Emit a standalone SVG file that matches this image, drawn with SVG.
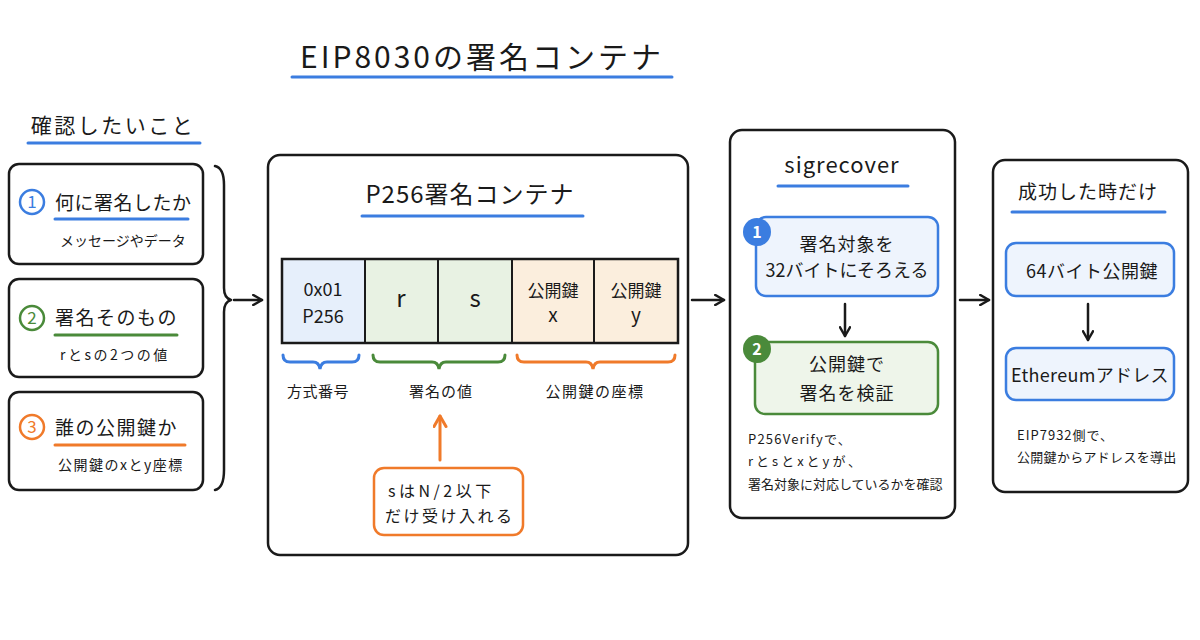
<svg xmlns="http://www.w3.org/2000/svg" width="1200" height="640" viewBox="0 0 1200 640">
<defs>
<style>
text{font-family:"Noto Sans CJK JP","Noto Sans",sans-serif;fill:#1a1a1a}
.box{fill:#fff;stroke:#1a1a1a;stroke-width:2.5}
.ln{stroke-width:3;stroke-linecap:round;fill:none}
.b{stroke:#3b7de0}.g{stroke:#4a8a3a}.o{stroke:#f07a2a}
.k{stroke:#1a1a1a;stroke-width:2.5;fill:none;stroke-linecap:round;stroke-linejoin:round}
.t{font-size:19px;letter-spacing:0.5px}
.s{font-size:14px}
.c{text-anchor:middle}
</style>
<marker id="ah" viewBox="0 0 10 10" refX="8" refY="5" markerWidth="5" markerHeight="5" orient="auto"><path d="M1,1 L8,5 L1,9" fill="none" stroke="#1a1a1a" stroke-width="2" stroke-linecap="round" stroke-linejoin="round"/></marker>
<marker id="aho" viewBox="0 0 10 10" refX="8" refY="5" markerWidth="5" markerHeight="5" orient="auto"><path d="M1,1 L8,5 L1,9" fill="none" stroke="#f07a2a" stroke-width="2" stroke-linecap="round" stroke-linejoin="round"/></marker>
</defs>
<rect width="1200" height="640" fill="#fff"/>

<g id="title">
<text x="482" y="68" class="c" style="font-size:30px;letter-spacing:3px">EIP8030の署名コンテナ</text>
<line x1="292" y1="77" x2="672" y2="77" class="ln b"/>
</g>

<g id="check-heading">
<text x="113" y="133" class="c" style="font-size:21px;letter-spacing:2.5px">確認したいこと</text>
<line x1="28" y1="143" x2="200" y2="143" class="ln b"/>
</g>

<g id="item1">
<rect x="9" y="164" width="194" height="100" rx="10" class="box"/>
<circle cx="32" cy="202" r="12" fill="none" class="b" stroke-width="2.5"/>
<text x="32" y="208" class="c" style="font-size:17px;fill:#3b7de0">1</text>
<text x="55" y="210" class="t">何に署名したか</text>
<line x1="55" y1="219" x2="188" y2="219" class="ln b"/>
<text x="60" y="246" class="s">メッセージやデータ</text>
</g>

<g id="item2">
<rect x="9" y="279" width="194" height="98" rx="10" class="box"/>
<circle cx="32" cy="318" r="12" fill="none" class="g" stroke-width="2.5"/>
<text x="32" y="324" class="c" style="font-size:17px;fill:#4a8a3a">2</text>
<text x="55" y="325" class="t" style="letter-spacing:1.5px">署名そのもの</text>
<line x1="55" y1="335" x2="177" y2="335" class="ln g"/>
<text x="60" y="360" class="s" style="letter-spacing:2.5px">rとsの2つの値</text>
</g>

<g id="item3">
<rect x="9" y="392" width="194" height="98" rx="10" class="box"/>
<circle cx="32" cy="427" r="12" fill="none" class="o" stroke-width="2.5"/>
<text x="32" y="433" class="c" style="font-size:17px;fill:#f07a2a">3</text>
<text x="55" y="435" class="t" style="letter-spacing:1.5px">誰の公開鍵か</text>
<line x1="55" y1="445" x2="185" y2="445" class="ln o"/>
<text x="58" y="470" class="s" style="letter-spacing:1.5px">公開鍵のxとy座標</text>
</g>

<g id="container">
<rect x="268" y="155" width="420" height="400" rx="12" class="box"/>
<text x="470" y="203" class="c" style="font-size:24px;letter-spacing:1px">P256署名コンテナ</text>
<line x1="362" y1="216" x2="583" y2="216" class="ln b"/>
<rect x="282" y="259" width="83" height="84" fill="#e6effb"/>
<rect x="365" y="259" width="147" height="84" fill="#e8f2e3"/>
<rect x="512" y="259" width="166" height="84" fill="#fbeedd"/>
<rect x="282" y="259" width="396" height="84" fill="none" stroke="#1a1a1a" stroke-width="2.5"/>
<line x1="365" y1="259" x2="365" y2="343" stroke="#1a1a1a" stroke-width="2"/>
<line x1="438" y1="259" x2="438" y2="343" stroke="#1a1a1a" stroke-width="2"/>
<line x1="512" y1="259" x2="512" y2="343" stroke="#1a1a1a" stroke-width="2"/>
<line x1="594" y1="259" x2="594" y2="343" stroke="#1a1a1a" stroke-width="2"/>
<text x="323" y="296" class="c" style="font-size:18px">0x01</text>
<text x="323" y="323" class="c" style="font-size:18px">P256</text>
<text x="401" y="307" class="c" style="font-size:24px">r</text>
<text x="475" y="307" class="c" style="font-size:24px">s</text>
<text x="553" y="297" class="c" style="font-size:17px">公開鍵</text>
<text x="553" y="322" class="c" style="font-size:19px">x</text>
<text x="636" y="297" class="c" style="font-size:17px">公開鍵</text>
<text x="636" y="322" class="c" style="font-size:19px">y</text>
<path d="M283,355 Q283,362 290,362 L313,362 Q319,362 320,369 Q321,362 327,362 L352,362 Q359,362 359,355" class="ln b" stroke-width="2.2"/>
<path d="M373,355 Q373,362 380,362 L432,362 Q438,362 439,369 Q440,362 446,362 L498,362 Q505,362 505,355" class="ln g" stroke-width="2.2"/>
<path d="M517,355 Q517,362 524,362 L586,362 Q592,362 593,369 Q594,362 600,362 L668,362 Q675,362 675,355" class="ln o" stroke-width="2.2"/>
<text x="318" y="397" class="c" style="font-size:15px;letter-spacing:0.5px">方式番号</text>
<text x="441" y="397" class="c" style="font-size:15px;letter-spacing:1px">署名の値</text>
<text x="595" y="397" class="c" style="font-size:15px;letter-spacing:1.5px">公開鍵の座標</text>
</g>

<g id="note-s">
<rect x="374" y="468" width="149" height="67" rx="10" fill="#fff" stroke="#f07a2a" stroke-width="2.5"/>
<text x="388" y="497" style="font-size:16px;letter-spacing:3.5px">sはN/2以下</text>
<text x="385" y="522" style="font-size:16px;letter-spacing:2.5px">だけ受け入れる</text>
</g>

<g id="sigrecover">
<rect x="730" y="130" width="225" height="388" rx="12" class="box"/>
<text x="842" y="173" class="c" style="font-size:22px;letter-spacing:1px">sigrecover</text>
<line x1="778" y1="186" x2="908" y2="186" class="ln b"/>
<rect x="756" y="217" width="182" height="79" rx="10" fill="#eef4fd" stroke="#3b7de0" stroke-width="2.5"/>
<circle cx="757" cy="232" r="14" fill="#3b7de0"/>
<text x="757" y="238" class="c" style="font-size:16px;fill:#fff;font-weight:bold">1</text>
<text x="847" y="251" class="c" style="font-size:18px;letter-spacing:1px">署名対象を</text>
<text x="847" y="277" class="c" style="font-size:18px">32バイトにそろえる</text>
<rect x="755" y="342" width="183" height="72" rx="10" fill="#eef5ea" stroke="#4a8a3a" stroke-width="2.5"/>
<circle cx="757" cy="349" r="14" fill="#4a8a3a"/>
<text x="757" y="355" class="c" style="font-size:16px;fill:#fff;font-weight:bold">2</text>
<text x="847" y="371" class="c" style="font-size:18px;letter-spacing:1px">公開鍵で</text>
<text x="847" y="400" class="c" style="font-size:18px;letter-spacing:1px">署名を検証</text>
<text x="748" y="444" style="font-size:13px;letter-spacing:1.2px">P256Verifyで、</text>
<text x="748" y="466" style="font-size:13px;letter-spacing:3px">rとsとxとyが、</text>
<text x="748" y="489" style="font-size:13px">署名対象に対応しているかを確認</text>
</g>

<g id="success">
<rect x="993" y="160" width="195" height="332" rx="12" class="box"/>
<text x="1088" y="199" class="c" style="font-size:19px;letter-spacing:1px">成功した時だけ</text>
<line x1="1012" y1="212" x2="1165" y2="212" class="ln b"/>
<rect x="1006" y="243" width="168" height="53" rx="10" fill="#eef4fd" stroke="#3b7de0" stroke-width="2.5"/>
<text x="1092" y="278" class="c" style="font-size:18px;letter-spacing:0.5px">64バイト公開鍵</text>
<rect x="1006" y="348" width="168" height="52" rx="10" fill="#eef4fd" stroke="#3b7de0" stroke-width="2.5"/>
<text x="1090" y="382" class="c" style="font-size:18px;letter-spacing:0.3px">Ethereumアドレス</text>
<text x="1017" y="440" style="font-size:13px;letter-spacing:1px">EIP7932側で、</text>
<text x="1017" y="462" style="font-size:13px;letter-spacing:0.3px">公開鍵からアドレスを導出</text>
</g>

<g id="connectors">
<path d="M215,166 Q224,168 224,185 L224,288 Q224,298 231,300 Q224,302 224,312 L224,470 Q224,488 215,490" class="k"/>
<line x1="234" y1="300" x2="262" y2="300" class="k" marker-end="url(#ah)"/>
<line x1="692" y1="300" x2="724" y2="300" class="k" marker-end="url(#ah)"/>
<line x1="960" y1="300" x2="989" y2="300" class="k" marker-end="url(#ah)"/>
<line x1="440" y1="460" x2="440" y2="416" class="ln o" marker-end="url(#aho)"/>
<line x1="845" y1="304" x2="845" y2="336" class="k" marker-end="url(#ah)"/>
<line x1="1088" y1="304" x2="1088" y2="340" class="k" marker-end="url(#ah)"/>
</g>
</svg>
